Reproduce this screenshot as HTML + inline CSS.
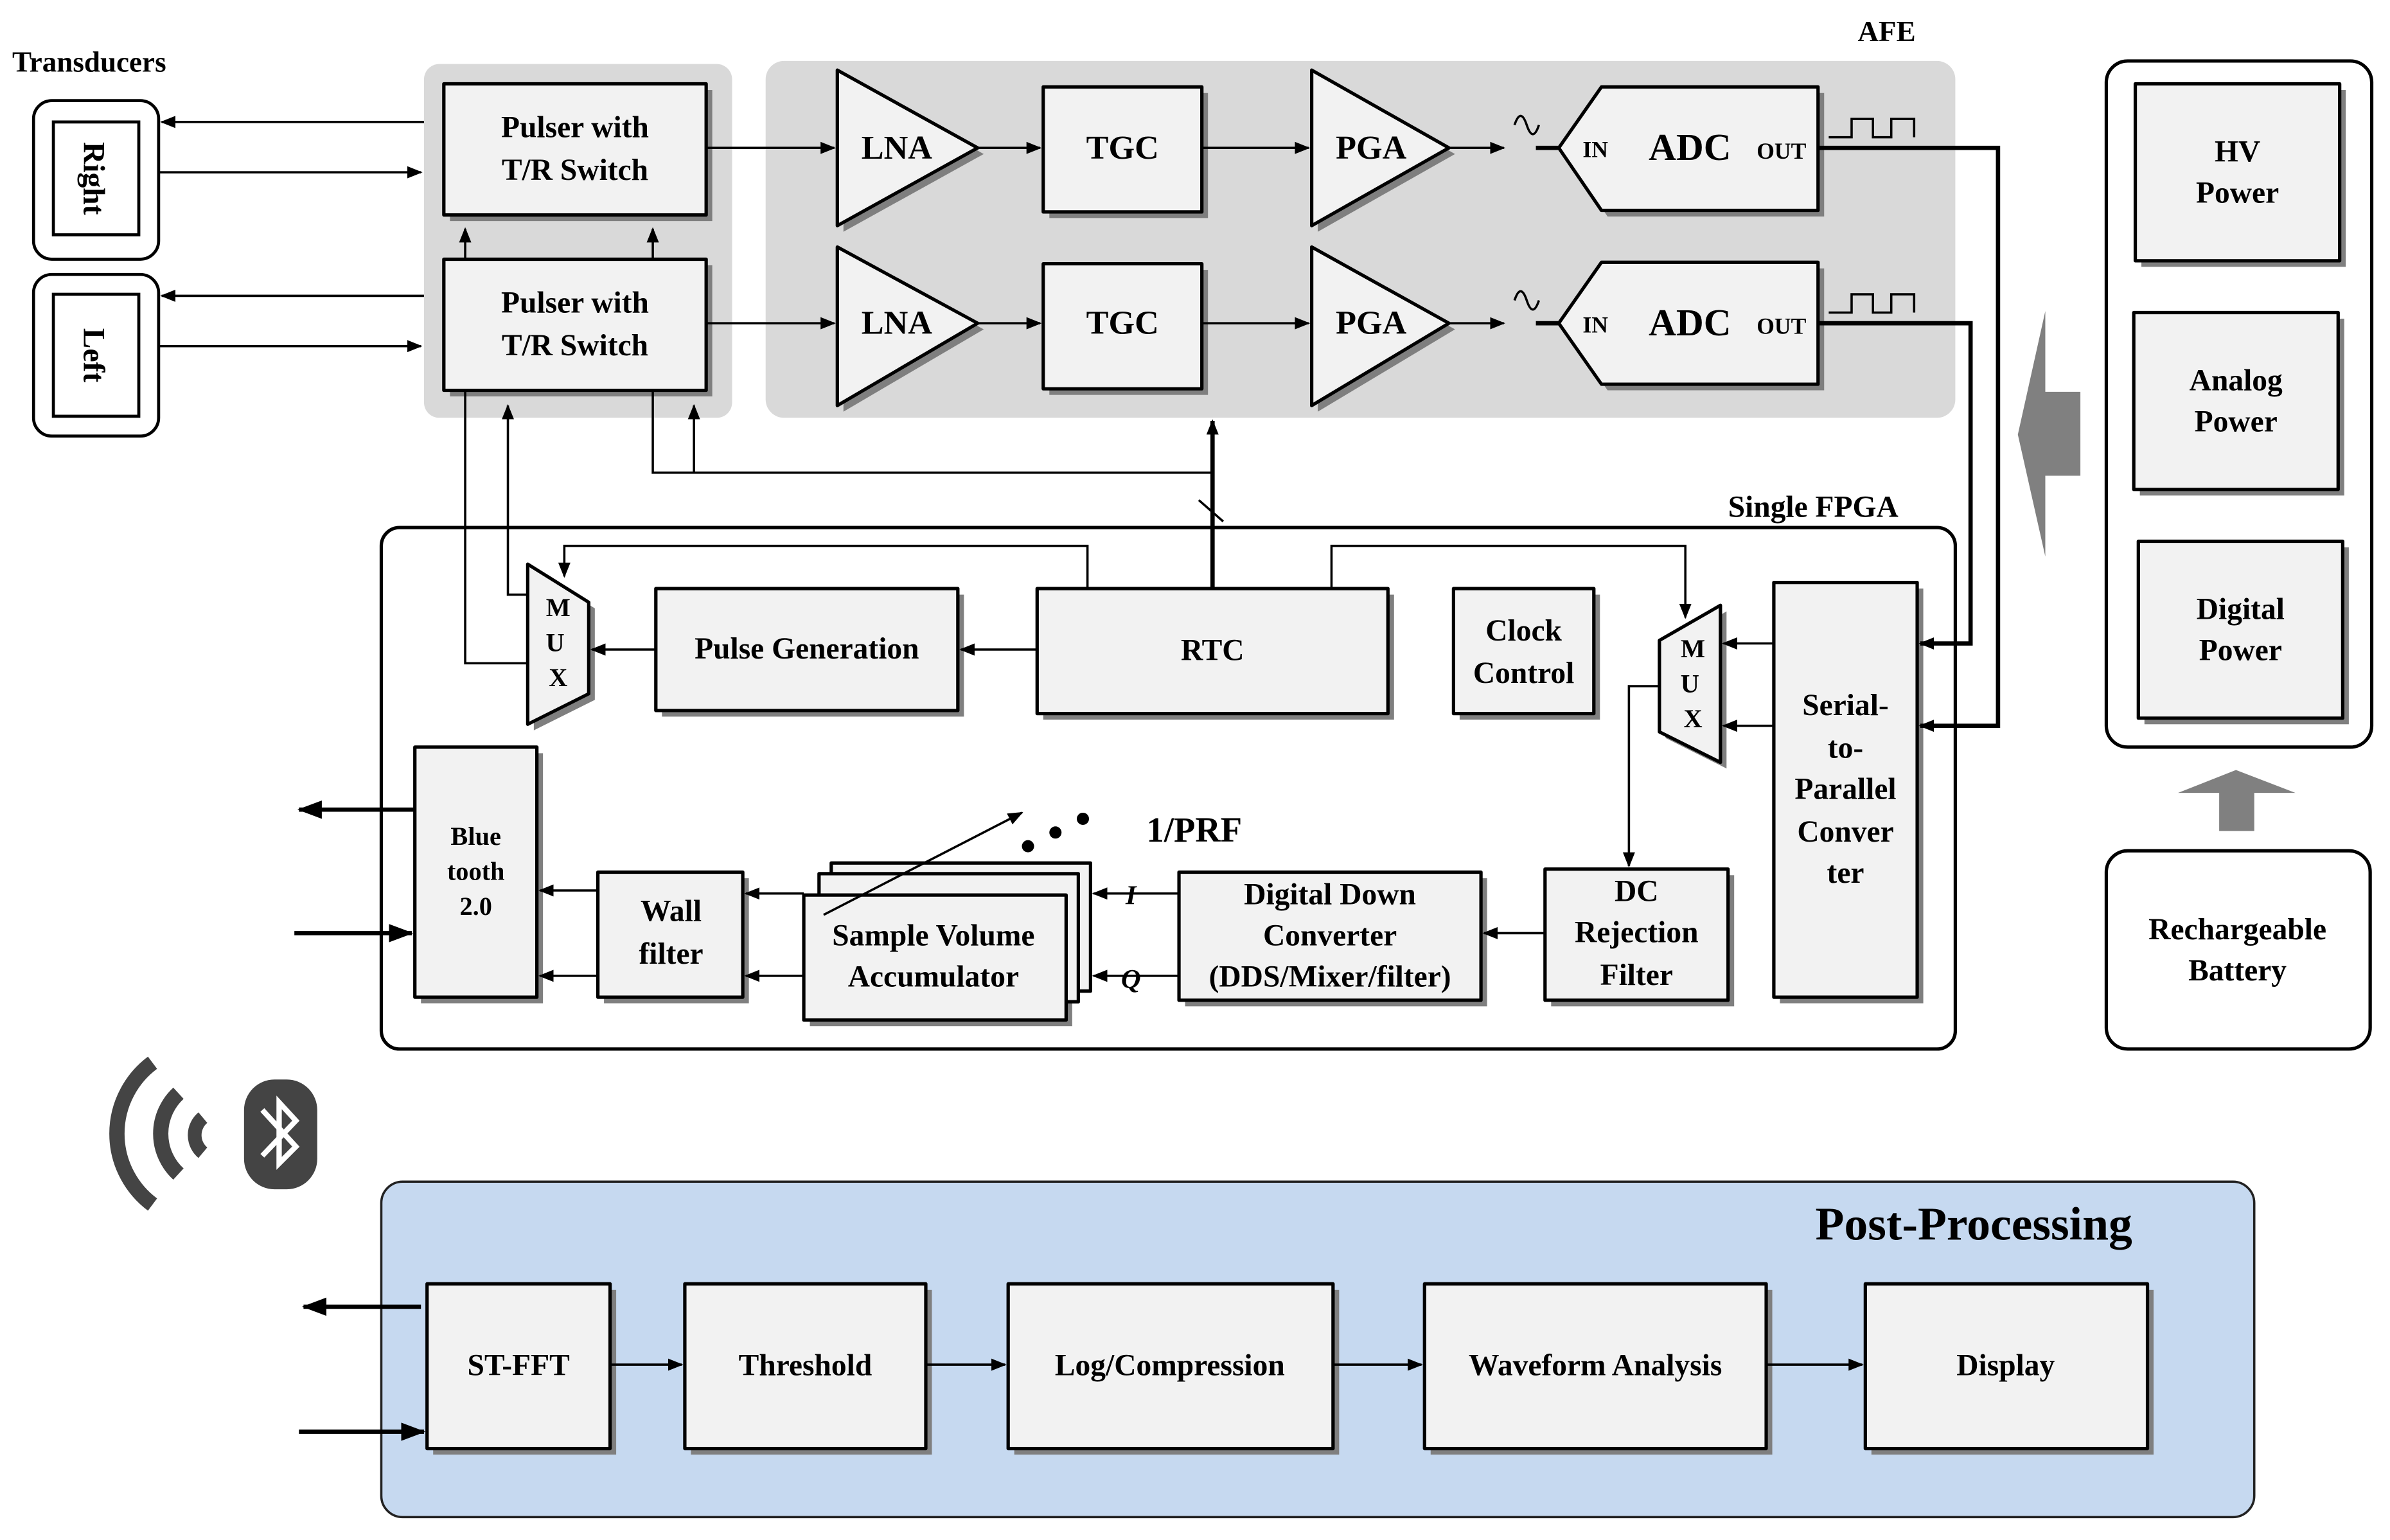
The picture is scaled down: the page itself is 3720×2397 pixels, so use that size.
<!DOCTYPE html>
<html><head><meta charset="utf-8"><style>html,body{margin:0;padding:0;background:#fff}svg{display:block}svg text{font-family:"Liberation Serif",serif;font-weight:bold}</style></head><body>
<svg width="3720" height="2397" viewBox="0 0 1567 1010" preserveAspectRatio="none" xmlns="http://www.w3.org/2000/svg" style="font-family:'Liberation Serif',serif;font-weight:bold">
<defs>
<marker id="a" markerWidth="10" markerHeight="8" refX="9" refY="4" orient="auto" markerUnits="userSpaceOnUse"><path d="M0,0 L10,4 L0,8 z" fill="#000"/></marker>
<marker id="b" markerWidth="16" markerHeight="12" refX="15" refY="6" orient="auto" markerUnits="userSpaceOnUse"><path d="M0,0 L16,6 L0,12 z" fill="#000"/></marker>
</defs>
<rect x="278" y="42" width="202" height="232" rx="10" fill="#d9d9d9"/>
<rect x="502" y="40" width="780" height="234" rx="12" fill="#d9d9d9"/>
<rect x="250" y="775" width="1228" height="220" rx="14" fill="#c6d9f0" stroke="#222" stroke-width="1.5"/>
<text x="8" y="47" font-size="19">Transducers</text>
<text x="1218" y="27" font-size="19">AFE</text>
<text x="1133" y="339" font-size="20">Single FPGA</text>
<text x="1398" y="813" font-size="31" text-anchor="end">Post-Processing</text>

<g fill="none" stroke="#000" stroke-width="2">
<rect x="22" y="66" width="82" height="104" rx="12"/><rect x="35" y="80" width="56" height="74"/>
<rect x="22" y="180" width="82" height="106" rx="12"/><rect x="35" y="193" width="56" height="80"/>
</g>
<text transform="translate(55,117) rotate(90)" font-size="20" text-anchor="middle">Right</text>
<text transform="translate(55,233) rotate(90)" font-size="20" text-anchor="middle">Left</text>

<g stroke="none" fill="#7f7f7f">
<rect x="295" y="59" width="172" height="86"/><rect x="295" y="174" width="172" height="86"/>
<rect x="688" y="61" width="104" height="82"/><rect x="688" y="177" width="104" height="82"/>
<polygon points="1054,61 1196,61 1196,142 1054,142 1026,101"/><polygon points="1054,176 1196,176 1196,256 1054,256 1026,216"/>
<polygon points="553,50 645,101 553,152"/><polygon points="553,166 645,216 553,270"/>
<polygon points="864,50 954,101 864,152"/><polygon points="864,166 954,216 864,270"/>
<rect x="1404" y="59" width="134" height="116"/><rect x="1403" y="209" width="134" height="116"/><rect x="1406" y="359" width="134" height="116"/>
<rect x="434" y="390" width="198" height="80"/><rect x="684" y="390" width="230" height="82"/><rect x="957" y="390" width="92" height="82"/>
<rect x="1167" y="386" width="94" height="272"/><rect x="276" y="494" width="80" height="164"/><rect x="396" y="576" width="95" height="82"/>
<rect x="531" y="591" width="172" height="82"/><rect x="777" y="576" width="198" height="84"/><rect x="1017" y="574" width="120" height="86"/>
<rect x="284" y="846" width="120" height="108"/><rect x="453" y="846" width="158" height="108"/><rect x="665" y="846" width="213" height="108"/><rect x="938" y="846" width="224" height="108"/><rect x="1227" y="846" width="185" height="108"/>
<polygon points="350,374 390,399 390,459 350,479"/><polygon points="1092,424 1132,401 1132,504 1092,484"/>
</g>
<g fill="#f2f2f2" stroke="#000" stroke-width="2.2" stroke-linejoin="round">
<rect x="291" y="55" width="172" height="86"/><rect x="291" y="170" width="172" height="86"/>
<rect x="684" y="57" width="104" height="82"/><rect x="684" y="173" width="104" height="82"/>
<polygon points="1050,57 1192,57 1192,138 1050,138 1022,97"/><polygon points="1050,172 1192,172 1192,252 1050,252 1022,212"/>
<polygon points="549,46 641,97 549,148"/><polygon points="549,162 641,212 549,266"/>
<polygon points="860,46 950,97 860,148"/><polygon points="860,162 950,212 860,266"/>
<rect x="1400" y="55" width="134" height="116"/><rect x="1399" y="205" width="134" height="116"/><rect x="1402" y="355" width="134" height="116"/>
<rect x="430" y="386" width="198" height="80"/><rect x="680" y="386" width="230" height="82"/><rect x="953" y="386" width="92" height="82"/>
<rect x="1163" y="382" width="94" height="272"/><rect x="272" y="490" width="80" height="164"/><rect x="392" y="572" width="95" height="82"/>
<rect x="545" y="566" width="170" height="84"/><rect x="537" y="573" width="170" height="84"/><rect x="527" y="587" width="172" height="82"/>
<rect x="773" y="572" width="198" height="84"/><rect x="1013" y="570" width="120" height="86"/>
<rect x="280" y="842" width="120" height="108"/><rect x="449" y="842" width="158" height="108"/><rect x="661" y="842" width="213" height="108"/><rect x="934" y="842" width="224" height="108"/><rect x="1223" y="842" width="185" height="108"/>
<polygon points="346,370 386,395 386,455 346,475"/><polygon points="1088,420 1128,397 1128,500 1088,480"/>
</g>
<g fill="none" stroke="#000" stroke-width="2.2">
<rect x="1381" y="40" width="174" height="450" rx="14"/>
<rect x="1381" y="558" width="173" height="130" rx="14"/>
<rect x="250" y="346" width="1032" height="342" rx="12"/>
</g>
<polygon points="1323,285 1341,204 1341,257 1364,257 1364,312 1341,312 1341,365" fill="#808080"/>
<polygon points="1428,520 1466,505 1505,520 1478,520 1478,545 1455,545 1455,520" fill="#808080"/>

<g font-size="20" text-anchor="middle">
<text x="377" y="90">Pulser with</text><text x="377" y="118">T/R Switch</text>
<text x="377" y="205">Pulser with</text><text x="377" y="233">T/R Switch</text>
<text x="588" y="104" font-size="22">LNA</text><text x="588" y="219" font-size="22">LNA</text>
<text x="736" y="104" font-size="22">TGC</text><text x="736" y="219" font-size="22">TGC</text>
<text x="899" y="104" font-size="22">PGA</text><text x="899" y="219" font-size="22">PGA</text>
<text x="1108" y="105" font-size="25">ADC</text><text x="1108" y="220" font-size="25">ADC</text>
<text x="1046" y="103" font-size="15">IN</text><text x="1046" y="218" font-size="15">IN</text>
<text x="1168" y="104" font-size="15">OUT</text><text x="1168" y="219" font-size="15">OUT</text>
<text x="1467" y="106">HV</text><text x="1467" y="133">Power</text>
<text x="1466" y="256">Analog</text><text x="1466" y="283">Power</text>
<text x="1469" y="406">Digital</text><text x="1469" y="433">Power</text>
<text x="1467" y="616">Rechargeable</text><text x="1467" y="643">Battery</text>
<text x="529" y="432">Pulse Generation</text>
<text x="795" y="433">RTC</text>
<text x="999" y="420">Clock</text><text x="999" y="448">Control</text>
<text x="366" y="404" font-size="17">M</text><text x="364" y="427" font-size="17">U</text><text x="366" y="450" font-size="17">X</text>
<text x="1110" y="431" font-size="17">M</text><text x="1108" y="454" font-size="17">U</text><text x="1110" y="477" font-size="17">X</text>
<text x="1210" y="469">Serial-</text><text x="1210" y="497">to-</text><text x="1210" y="524">Parallel</text><text x="1210" y="552">Conver</text><text x="1210" y="579">ter</text>
<text x="312" y="554" font-size="17">Blue</text><text x="312" y="577" font-size="17">tooth</text><text x="312" y="600" font-size="17">2.0</text>
<text x="440" y="604">Wall</text><text x="440" y="632">filter</text>
<text x="612" y="620">Sample Volume</text><text x="612" y="647">Accumulator</text>
<text x="872" y="593">Digital Down</text><text x="872" y="620">Converter</text><text x="872" y="647">(DDS/Mixer/filter)</text>
<text x="1073" y="591">DC</text><text x="1073" y="618">Rejection</text><text x="1073" y="646">Filter</text>
<text x="340" y="902">ST-FFT</text><text x="528" y="902">Threshold</text><text x="767" y="902">Log/Compression</text><text x="1046" y="902">Waveform Analysis</text><text x="1315" y="902">Display</text>
<text x="783" y="552" font-size="23">1/PRF</text>
</g>
<text x="738" y="593" font-size="18" font-style="italic">I</text>
<text x="735" y="648" font-size="18" font-style="italic">Q</text>
<circle cx="674" cy="555" r="4"/><circle cx="692" cy="546" r="4"/><circle cx="710" cy="537" r="4"/>

<g fill="none" stroke="#000" stroke-width="1.5">
<line x1="278" y1="80" x2="106" y2="80" marker-end="url(#a)"/>
<line x1="104" y1="113" x2="276" y2="113" marker-end="url(#a)"/>
<line x1="278" y1="194" x2="106" y2="194" marker-end="url(#a)"/>
<line x1="104" y1="227" x2="276" y2="227" marker-end="url(#a)"/>
<line x1="463" y1="97" x2="547" y2="97" marker-end="url(#a)"/>
<line x1="463" y1="212" x2="547" y2="212" marker-end="url(#a)"/>
<line x1="641" y1="97" x2="682" y2="97" marker-end="url(#a)"/>
<line x1="641" y1="212" x2="682" y2="212" marker-end="url(#a)"/>
<line x1="788" y1="97" x2="858" y2="97" marker-end="url(#a)"/>
<line x1="788" y1="212" x2="858" y2="212" marker-end="url(#a)"/>
<line x1="950" y1="97" x2="986" y2="97" marker-end="url(#a)"/>
<line x1="950" y1="212" x2="986" y2="212" marker-end="url(#a)"/>
<line x1="305" y1="170" x2="305" y2="150" marker-end="url(#a)"/>
<line x1="428" y1="170" x2="428" y2="150" marker-end="url(#a)"/>
<polyline points="346,435 305,435 305,256"/>
<polyline points="346,390 333,390 333,266" marker-end="url(#a)"/>
<polyline points="428,256 428,310 795,310"/>
<line x1="455" y1="310" x2="455" y2="266" marker-end="url(#a)"/>
<polyline points="713,386 713,358 370,358 370,378" marker-end="url(#a)"/>
<polyline points="873,386 873,358 1105,358 1105,405" marker-end="url(#a)"/>
<line x1="680" y1="426" x2="630" y2="426" marker-end="url(#a)"/>
<line x1="430" y1="426" x2="388" y2="426" marker-end="url(#a)"/>
<line x1="1163" y1="422" x2="1130" y2="422" marker-end="url(#a)"/>
<line x1="1163" y1="476" x2="1130" y2="476" marker-end="url(#a)"/>
<polyline points="1088,450 1068,450 1068,568" marker-end="url(#a)"/>
<line x1="1013" y1="612" x2="973" y2="612" marker-end="url(#a)"/>
<line x1="773" y1="586" x2="717" y2="586" marker-end="url(#a)"/>
<line x1="773" y1="640" x2="717" y2="640" marker-end="url(#a)"/>
<line x1="527" y1="586" x2="489" y2="586" marker-end="url(#a)"/>
<line x1="527" y1="640" x2="489" y2="640" marker-end="url(#a)"/>
<line x1="392" y1="584" x2="354" y2="584" marker-end="url(#a)"/>
<line x1="392" y1="640" x2="354" y2="640" marker-end="url(#a)"/>
<line x1="540" y1="600" x2="670" y2="533" marker-end="url(#a)"/>
<line x1="400" y1="895" x2="447" y2="895" marker-end="url(#a)"/>
<line x1="607" y1="895" x2="659" y2="895" marker-end="url(#a)"/>
<line x1="874" y1="895" x2="932" y2="895" marker-end="url(#a)"/>
<line x1="1158" y1="895" x2="1221" y2="895" marker-end="url(#a)"/>
<line x1="786" y1="328" x2="802" y2="342"/>
<path d="M993,82 q4,-12 8,0 t8,0"/><path d="M993,197 q4,-12 8,0 t8,0"/>
<polyline points="1199,90 1214,90 1214,78 1228,78 1228,90 1240,90 1240,78 1255,78 1255,90"/>
<polyline points="1199,205 1214,205 1214,193 1228,193 1228,205 1240,205 1240,193 1255,193 1255,205"/>
</g>
<g fill="none" stroke="#000" stroke-width="2.8">
<line x1="1007" y1="97" x2="1022" y2="97"/><line x1="1007" y1="212" x2="1022" y2="212"/>
<polyline points="1192,97 1310,97 1310,476 1259,476" marker-end="url(#a)"/>
<polyline points="1192,212 1292,212 1292,422 1259,422" marker-end="url(#a)"/>
<line x1="795" y1="386" x2="795" y2="276" marker-end="url(#a)"/>
<line x1="272" y1="531" x2="196" y2="531" marker-end="url(#b)"/>
<line x1="193" y1="612" x2="270" y2="612" marker-end="url(#b)"/>
<line x1="276" y1="857" x2="199" y2="857" marker-end="url(#b)"/>
<line x1="196" y1="939" x2="278" y2="939" marker-end="url(#b)"/>
</g>
<g fill="none" stroke="#444" stroke-linecap="butt">
<path d="M100,697 A58,58 0 0 0 100,790" stroke-width="10"/>
<path d="M117,717 A36,36 0 0 0 117,770" stroke-width="10"/>
<path d="M133,733 A15,15 0 0 0 133,756" stroke-width="9"/>
</g>
<rect x="160" y="708" width="48" height="72" rx="20" fill="#444"/>
<polyline points="172,728 194,752 183,763 183,723 194,735 172,758" fill="none" stroke="#fff" stroke-width="3.5" stroke-linejoin="miter"/>
</svg>
</body></html>
